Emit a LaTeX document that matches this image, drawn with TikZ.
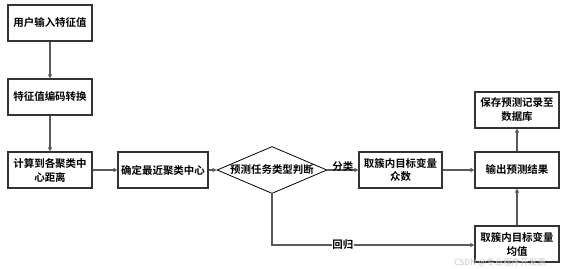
\documentclass[tikz,border=0pt]{standalone}
\usepackage{fontspec}
\setmainfont{Noto Sans CJK SC}[BoldFont={Noto Sans CJK SC Bold}]
\usetikzlibrary{arrows.meta,shapes.geometric}
\definecolor{edgegray}{HTML}{5A5A5A}
\definecolor{boxgray}{HTML}{333333}
\begin{document}
\begin{tikzpicture}[x=1bp,y=-1bp,
  font=\fontsize{10.5}{14}\selectfont\bfseries,
  procbox/.style={draw=boxgray,line width=1.2bp,minimum width=84bp,minimum height=36bp,inner sep=1bp,align=center},
  decide/.style={draw=black,line width=0.8bp,diamond,aspect=2.3,minimum width=110bp,minimum height=47bp,inner sep=0bp,align=center},
  conn/.style={draw=edgegray,line width=1.4bp,-{Triangle[length=4bp,width=4bp]}},
  lbl/.style={fill=white,inner sep=0.5bp,font=\fontsize{10.5}{12}\selectfont\bfseries}
]
\useasboundingbox (0,0) rectangle (572,268);
\node[procbox] (a) at (50,23) {用户输入特征值};
\node[procbox] (b) at (50,97) {特征值编码转换};
\node[procbox] (c) at (50,170) {计算到各聚类中\\心距离};
\node[procbox,minimum width=90bp] (d) at (163,170) {确定最近聚类中心};
\node[decide] (e) at (272,170) {预测任务类型判断};
\node[procbox,minimum width=83bp] (f) at (400.5,170) {取簇内目标变量\\众数};
\node[procbox] (g) at (517,170) {输出预测结果};
\node[procbox] (h) at (517,110) {保存预测记录至\\数据库};
\node[procbox] (i) at (517,244) {取簇内目标变量\\均值};
\coordinate (k) at (272,245);
\draw[conn] (a) -- (b);
\draw[conn] (b) -- (c);
\draw[conn] (c) -- (d);
\draw[conn] (d) -- (e);
\draw[conn] (e) -- node[lbl,above=-3bp,fill=none,pos=0.5] {分类} (f);
\draw[conn] (f) -- (g);
\draw[conn] (g) -- (h);
\draw[conn] (i) -- (g);
\draw[conn] (e.south) -- (k) -- node[lbl,pos=0.35] {回归} (i.west |- k);
\node[text=gray!45,font=\fontsize{8.5}{10}\selectfont,anchor=west,inner sep=0bp] (w) at (454,263) {CSDN @专业程序开发源};
\end{tikzpicture}
\end{document}
